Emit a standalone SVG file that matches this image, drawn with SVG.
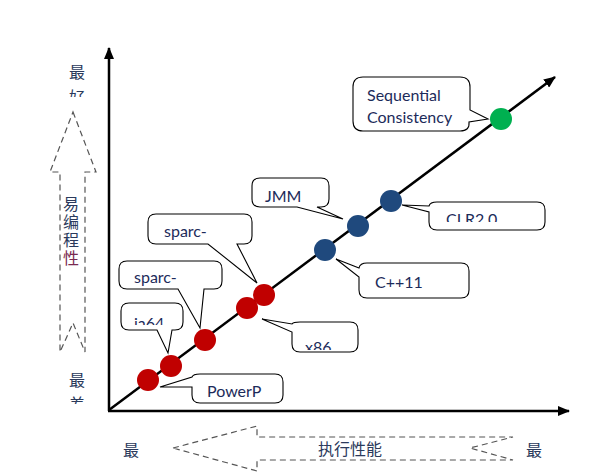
<svg xmlns="http://www.w3.org/2000/svg" width="603" height="475" viewBox="0 0 603 475">
<style>
.axis{stroke:#000;stroke-width:2.5;fill:none}
.dash{fill:none;stroke:#555;stroke-width:1.2;stroke-dasharray:6 4}
.cj{font-family:"Noto Sans CJK SC",sans-serif;font-size:16px;fill:#2b3a5c}
.box{fill:#fff;stroke:#000;stroke-width:1.1}
.lbl{font-family:Lato,"Liberation Sans",sans-serif;font-size:16px;fill:#1c2b5a}
.red{fill:#c00000}.blue{fill:#1f497d}.green{fill:#00b050}
</style>
<defs>
<marker id="ah" markerWidth="12" markerHeight="10" refX="11" refY="5" orient="auto" markerUnits="userSpaceOnUse">
<path d="M0,0 L12,5 L0,10 Z" fill="#000"/>
</marker>
<clipPath id="cTop"><rect x="0" y="0" width="120" height="97"/></clipPath>
<clipPath id="cBot"><rect x="0" y="380" width="120" height="24"/></clipPath>
<clipPath id="cJ"><rect x="252" y="178" width="77" height="26"/></clipPath>
<clipPath id="cC"><rect x="429" y="202" width="116" height="20"/></clipPath>
<clipPath id="cI"><rect x="121" y="303" width="62" height="22"/></clipPath>
<clipPath id="cX"><rect x="292" y="322" width="66" height="28"/></clipPath>
</defs>

<g id="axes">
<line class="axis" x1="109" y1="411" x2="109" y2="48" marker-end="url(#ah)"/>
<line class="axis" x1="108" y1="411" x2="569" y2="411" marker-end="url(#ah)"/>
</g>

<g id="connectors">
<line class="axis" x1="109" y1="410" x2="555" y2="77" marker-end="url(#ah)"/>
</g>

<g id="ease-arrow">
<path class="dash" d="M73,112 L96,172 L85,172 L85,352 L73,323 L60,352 L60,172 L50,172 Z"/>
<text class="cj" x="77" y="78" text-anchor="middle">最</text>
<text class="cj" x="77" y="103" text-anchor="middle" clip-path="url(#cTop)">好</text>
<text class="cj" x="71" y="196" style="writing-mode:vertical-rl;letter-spacing:2px">易编程<tspan style="fill:#7a2a50">性</tspan></text>
<text class="cj" x="77" y="386" text-anchor="middle">最</text>
<text class="cj" x="77" y="410" text-anchor="middle" clip-path="url(#cBot)">差</text>
</g>

<g id="perf-arrow">
<path class="dash" d="M173,448 L257,426 L257,437 L513,437 L470,448 L513,460 L257,460 L257,471 Z"/>
<text class="cj" x="350" y="455" text-anchor="middle">执行性能</text>
<text class="cj" x="131" y="456" text-anchor="middle">最</text>
<text class="cj" x="534" y="456" text-anchor="middle">最</text>
</g>

<g id="sc">
<path class="box" d="M363,77 H460 Q470,77 470,87 V110 L488,119 L469,122 Q470,131 460,131 H363 Q353,131 353,121 V87 Q353,77 363,77 Z"/>
<text class="lbl" x="367" y="101">Sequential</text>
<text class="lbl" x="367" y="123">Consistency</text>
<circle class="green" cx="501" cy="119" r="11"/>
</g>

<g id="jmm">
<path class="box" d="M260,178 H321 Q329,178 329,186 V199 Q329,207 321,207 H317 L343,219 L297,207 H260 Q252,207 252,199 V186 Q252,178 260,178 Z"/>
<text class="lbl" x="265" y="202" clip-path="url(#cJ)">JMM</text>
<circle class="blue" cx="358" cy="226" r="11"/>
</g>

<g id="clr">
<path class="box" d="M437,202 H537 Q545,202 545,210 V222 Q545,230 537,230 H437 Q429,230 429,222 V212 L402,205 L429,206 Q430,202 437,202 Z"/>
<text class="lbl" x="446" y="225" clip-path="url(#cC)">CLR2.0</text>
<circle class="blue" cx="391" cy="201" r="11"/>
</g>

<g id="cpp">
<path class="box" d="M367,263 H461 Q469,263 469,271 V290 Q469,298 461,298 H367 Q359,298 359,290 V277 L336,259 L359,268 Q360,263 367,263 Z"/>
<text class="lbl" x="375" y="288">C++11</text>
<circle class="blue" cx="325" cy="250" r="11"/>
</g>

<g id="x86">
<path class="box" d="M300,322 H350 Q358,322 358,330 V344 Q358,352 350,352 H300 Q292,352 292,344 V332 L262,319 L292,324 Q293,322 300,322 Z"/>
<text class="lbl" x="305" y="353" clip-path="url(#cX)">x86</text>
<circle class="red" cx="247" cy="308" r="11"/>
</g>

<g id="sparc2">
<path class="box" d="M156,214 H244 Q252,214 252,222 V236 Q252,244 244,244 H237 L257,283 L208,244 H156 Q148,244 148,236 V222 Q148,214 156,214 Z"/>
<text class="lbl" x="164" y="237">sparc-</text>
<circle class="red" cx="264" cy="295" r="11"/>
</g>

<g id="sparc1">
<path class="box" d="M127,261 H214 Q222,261 222,269 V281 Q222,289 214,289 H204 L200,328 L178,289 H127 Q119,289 119,281 V269 Q119,261 127,261 Z"/>
<text class="lbl" x="134" y="283">sparc-</text>
<circle class="red" cx="205" cy="340" r="11"/>
</g>

<g id="ia64">
<path class="box" d="M129,303 H175 Q183,303 183,311 V322 Q183,330 175,330 H172 L168,353 L157,330 H129 Q121,330 121,322 V311 Q121,303 129,303 Z"/>
<text class="lbl" x="134" y="329" clip-path="url(#cI)">ia64</text>
<circle class="red" cx="171" cy="366" r="11"/>
</g>

<g id="powerp">
<path class="box" d="M200,374 H275 Q283,374 283,382 V395 Q283,403 275,403 H200 Q192,403 192,395 V387 L160,387 L192,377 Q193,374 200,374 Z"/>
<text class="lbl" x="207" y="397">PowerP</text>
<circle class="red" cx="148" cy="380" r="11"/>
</g>
</svg>
